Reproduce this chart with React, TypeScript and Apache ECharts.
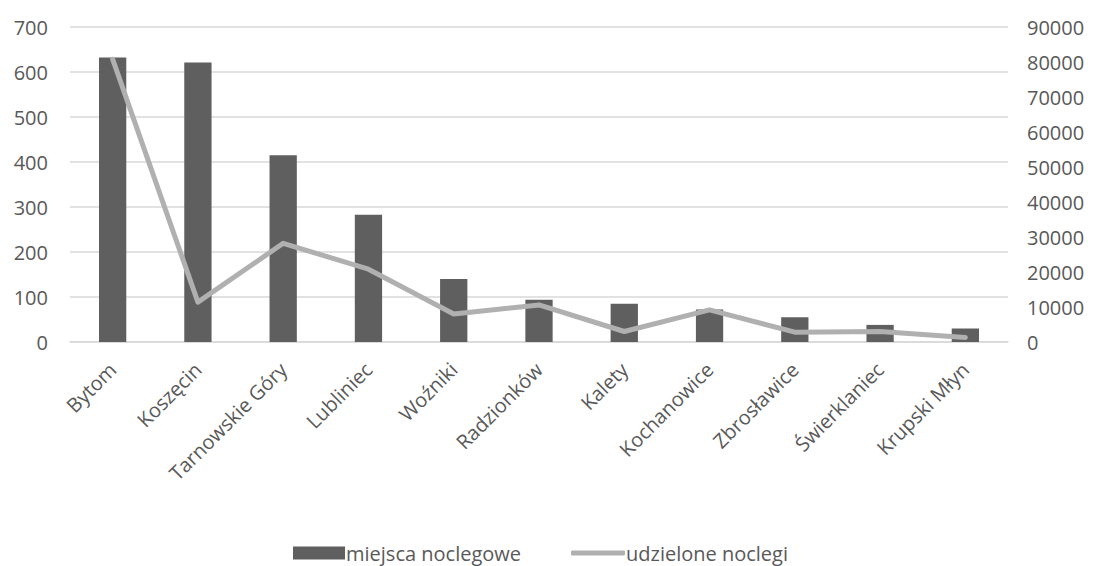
import React, { useEffect, useRef } from "react";
import * as echarts from "echarts";

const categories = [
  "Bytom",
  "Koszęcin",
  "Tarnowskie Góry",
  "Lubliniec",
  "Woźniki",
  "Radzionków",
  "Kalety",
  "Kochanowice",
  "Zbrosławice",
  "Świerklaniec",
  "Krupski Młyn",
];

const miejscaNoclegowe = [632, 621, 415, 283, 140, 94, 85, 72, 55, 38, 30];
const udzieloneNoclegi = [80800, 11400, 28200, 20800, 8000, 10600, 3000, 9200, 2800, 3000, 1300];

const FONT = "'Open Sans', sans-serif";
const TEXT = "#595959";
const BAR = "#5f5f5f";
const LINE = "#b0b0b0";

export default function App() {
  const ref = useRef<HTMLDivElement>(null);
  useEffect(() => {
    if (!ref.current) return;
    const chart = echarts.init(ref.current, null, { renderer: "svg" });
    const legendText = { fontFamily: FONT, fontSize: 20, color: TEXT, padding: [0, 0, 0, -4] };
    chart.setOption({
      animation: false,
      backgroundColor: "#ffffff",
      textStyle: { fontFamily: FONT, color: TEXT },
      grid: { left: 70, right: 86, top: 27, bottom: 224, containLabel: false },
      legend: [
        {
          data: [{ name: "miejsca noclegowe", icon: "rect" }],
          top: 538,
          left: 288,
          itemWidth: 52,
          itemHeight: 13,
          textStyle: legendText,
        },
        {
          data: [{ name: "udzielone noclegi", icon: "roundRect" }],
          top: 538,
          left: 566,
          itemWidth: 54,
          itemHeight: 5,
          itemStyle: { color: LINE },
          textStyle: legendText,
        },
      ],
      xAxis: {
        type: "category",
        data: categories,
        axisLine: { show: true, lineStyle: { color: "#d9d9d9", width: 1.5 } },
        axisTick: { show: false },
        axisLabel: {
          rotate: 45,
          interval: 0,
          margin: 24,
          fontFamily: FONT,
          fontSize: 20,
          color: TEXT,
        },
      },
      yAxis: [
        {
          type: "value",
          min: 0,
          max: 700,
          interval: 100,
          axisLine: { show: false },
          axisTick: { show: false },
          splitLine: { lineStyle: { color: "#d9d9d9", width: 1.5 } },
          axisLabel: { margin: 22, fontFamily: FONT, fontSize: 20, color: TEXT },
        },
        {
          type: "value",
          min: 0,
          max: 90000,
          interval: 10000,
          position: "right",
          axisLine: { show: false },
          axisTick: { show: false },
          splitLine: { show: false },
          axisLabel: {
            margin: 19,
            fontFamily: FONT,
            fontSize: 20,
            color: TEXT,
            formatter: (v: number) => String(v),
          },
        },
      ],
      series: [
        {
          name: "miejsca noclegowe",
          type: "bar",
          data: miejscaNoclegowe,
          barWidth: "32%",
          itemStyle: { color: BAR },
        },
        {
          name: "udzielone noclegi",
          type: "line",
          yAxisIndex: 1,
          data: udzieloneNoclegi,
          symbol: "none",
          showSymbol: false,
          lineStyle: { color: LINE, width: 5, cap: "round", join: "round" },
          itemStyle: { color: LINE },
        },
      ],
    });
    return () => chart.dispose();
  }, []);
  return <div ref={ref} style={{ width: 1094, height: 566, position: "absolute", left: 0, top: 0 }} />;
}
